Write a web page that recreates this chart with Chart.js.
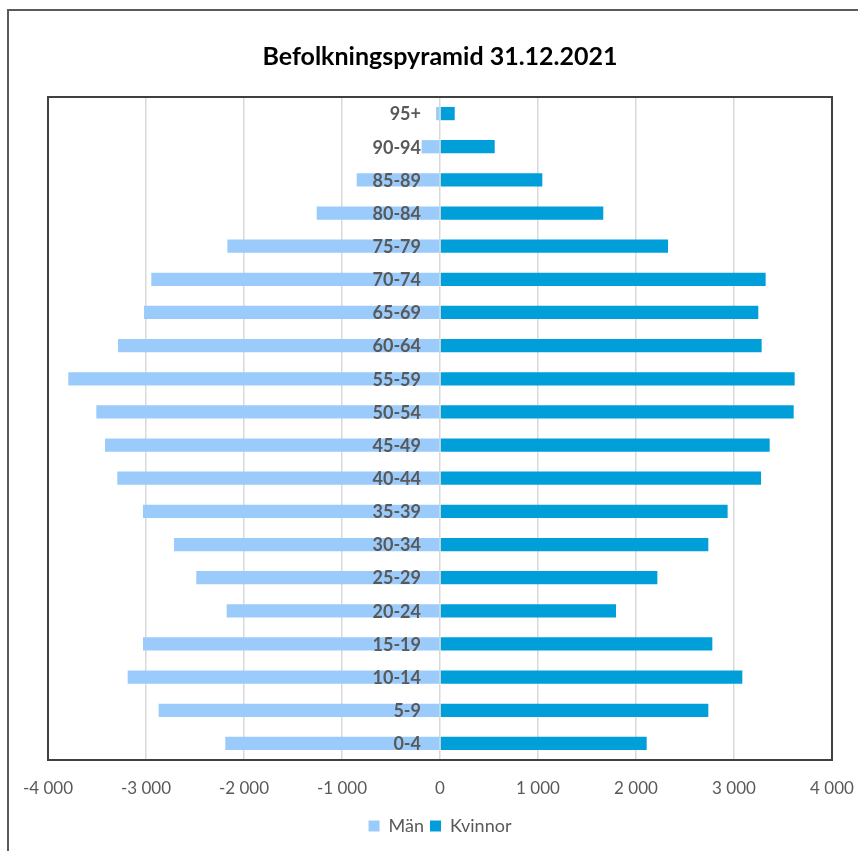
<!DOCTYPE html>
<html>
<head>
<meta charset="utf-8">
<script src="https://cdn.jsdelivr.net/npm/chart.js@4"></script>
<style>
  html, body { margin: 0; padding: 0; background: #fff; overflow: hidden; }
  #wrap { position: relative; width: 858px; height: 851px; }
  #frame { position: absolute; left: 7px; top: 9px; width: 900px; height: 900px; border: 2px solid #5a5a5a; box-sizing: border-box; pointer-events: none; }
  canvas { position: absolute; left: 0; top: 0; }
</style>
</head>
<body>
<div id="wrap">
  <canvas id="c" width="858" height="851"></canvas>
  <div id="frame"></div>
</div>
<script>
const titleText = 'Befolkningspyramid 31.12.2021';
const ageGroups = ['95+','90-94','85-89','80-84','75-79','70-74','65-69','60-64','55-59','50-54','45-49','40-44','35-39','30-34','25-29','20-24','15-19','10-14','5-9','0-4'];
const menValues = [40, 187, 850, 1258, 2170, 2946, 3020, 3286, 3793, 3507, 3418, 3293, 3031, 2714, 2487, 2177, 3031, 3187, 2871, 2191];
const womenValues = [150, 558, 1044, 1666, 2327, 3323, 3248, 3282, 3619, 3609, 3364, 3276, 2935, 2738, 2218, 1796, 2779, 3085, 2738, 2109];
const seriesNames = ['Män', 'Kvinnor'];
const xTicks = [-4000, -3000, -2000, -1000, 0, 1000, 2000, 3000, 4000];

const FONT = 'Lato, "Open Sans", sans-serif';

function fmt(v) {
  const s = Math.abs(v).toString().replace(/\B(?=(\d{3})+(?!\d))/g, ' ');
  return (v < 0 ? '-' : '') + s;
}

const centerLabels = {
  id: 'centerLabels',
  afterDatasetsDraw(chart) {
    const ctx = chart.ctx;
    const xs = chart.scales.x, ys = chart.scales.y;
    const x0 = xs.getPixelForValue(0);
    ctx.save();
    ctx.font = 'bold 18px ' + FONT;
    ctx.fillStyle = '#595959';
    ctx.textAlign = 'right';
    ctx.textBaseline = 'middle';
    chart.data.labels.forEach((lab, i) => {
      ctx.fillText(lab, x0 - 19, ys.getPixelForValue(i) + 1);
    });
    ctx.restore();
  },
  afterDraw(chart) {
    const a = chart.chartArea;
    const ctx = chart.ctx;
    ctx.save();
    ctx.strokeStyle = '#404040';
    ctx.lineWidth = 2;
    ctx.strokeRect(a.left, a.top, a.right - a.left, a.bottom - a.top);
    ctx.restore();
  }
};

new Chart(document.getElementById('c'), {
  type: 'bar',
  data: {
    labels: ageGroups,
    datasets: [
      { label: seriesNames[0], data: menValues.map(v => -v), backgroundColor: '#9BCBFB', stack: 's' },
      { label: seriesNames[1], data: womenValues, backgroundColor: '#009FDA', stack: 's' }
    ]
  },
  options: {
    indexAxis: 'y',
    responsive: false,
    animation: false,
    devicePixelRatio: 1,
    datasets: { bar: { categoryPercentage: 1, barPercentage: 0.4 } },
    layout: { padding: { left: 48, right: 26, top: 0, bottom: 6 } },
    scales: {
      x: {
        stacked: true,
        min: -4000, max: 4000,
        afterBuildTicks(scale) { scale.ticks = xTicks.map(v => ({ value: v })); },
        afterFit(scale) { scale.height = 51; scale.paddingLeft = 0; scale.paddingRight = 0; },
        ticks: {
          callback: v => fmt(v),
          font: { family: FONT, size: 17 },
          color: '#595959',
          padding: 18,
          maxRotation: 0
        },
        grid: { color: '#d9d9d9', lineWidth: 1.5, drawTicks: false },
        border: { display: false }
      },
      y: {
        stacked: true,
        display: false
      }
    },
    plugins: {
      title: {
        display: true,
        text: titleText,
        color: '#000',
        font: { family: FONT, size: 25, weight: 'bold' },
        padding: { top: 42, bottom: 25 }
      },
      legend: {
        position: 'bottom',
        labels: {
          boxWidth: 11, boxHeight: 11,
          padding: 6,
          color: '#595959',
          font: { family: FONT, size: 18 }
        }
      },
      tooltip: { enabled: false }
    }
  },
  plugins: [centerLabels]
});
</script>
</body>
</html>
